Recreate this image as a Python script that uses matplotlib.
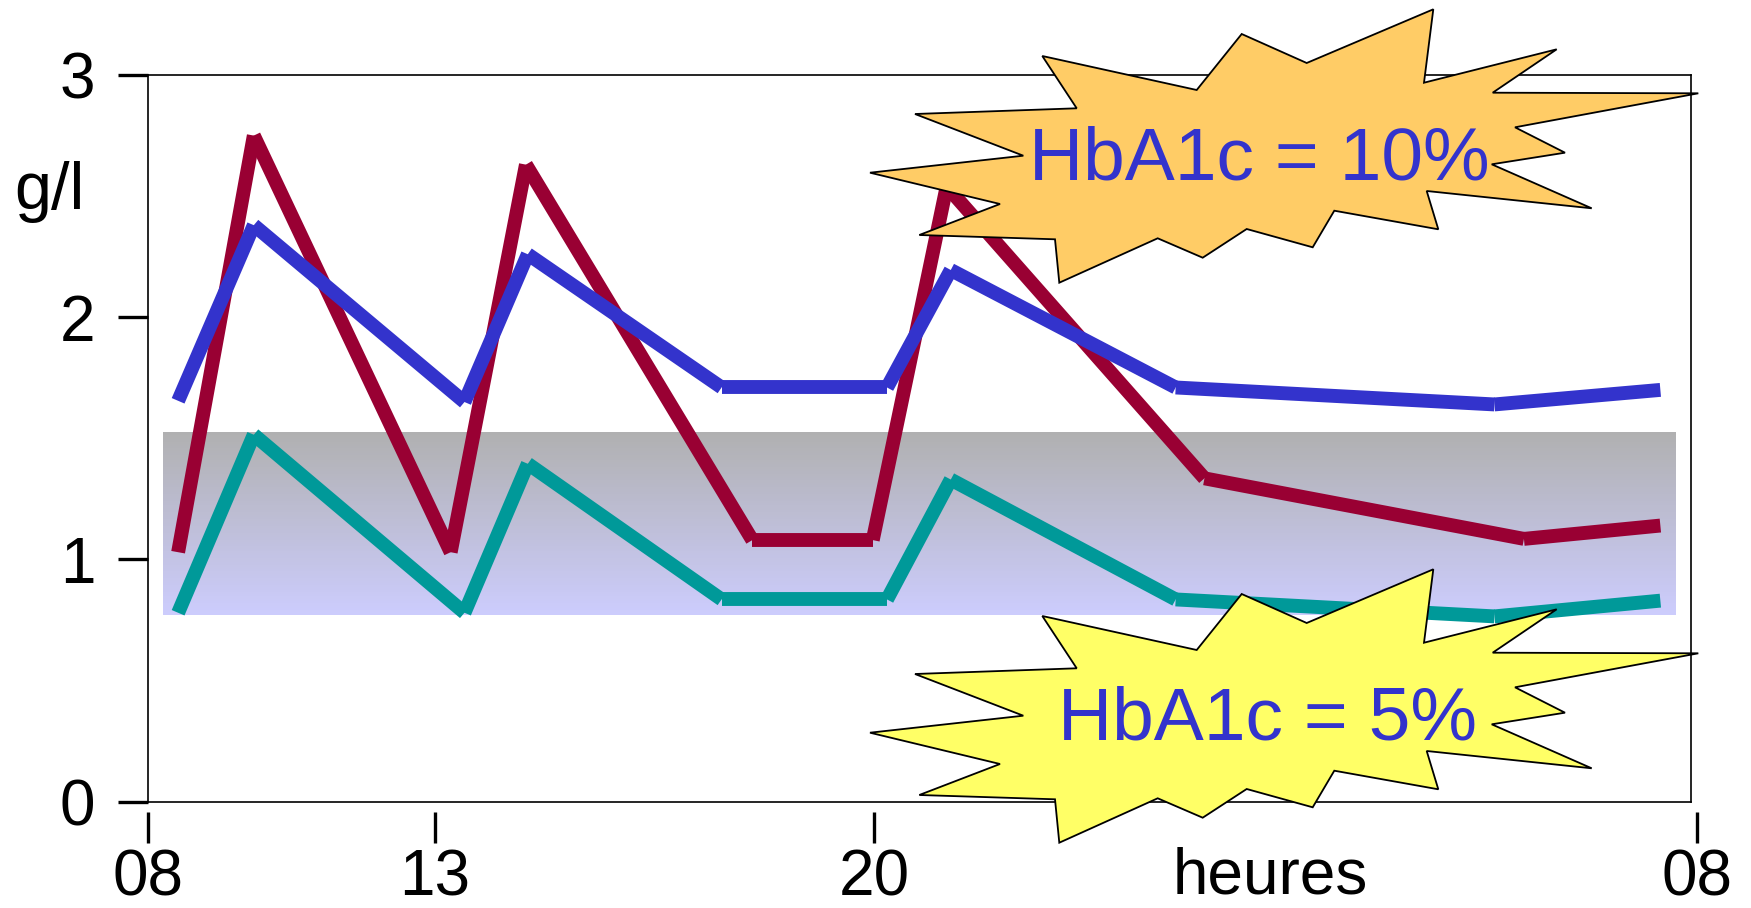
import numpy as np
import matplotlib
matplotlib.use("Agg")
import matplotlib.pyplot as plt
from matplotlib.patches import Polygon

plt.rcParams['font.family'] = ['Liberation Sans', 'DejaVu Sans']

# glycemie (g/l) sur 24 h
red_hours = [8.52, 9.84, 13.25, 14.45, 18.06, 19.98, 21.06, 24.82, 29.48, 31.47]
red_vals = [1.03, 2.75, 1.03, 2.63, 1.08, 1.08, 2.54, 1.335, 1.085, 1.14]

hours = [8.52, 9.84, 13.47, 14.48, 17.57, 20.19, 21.12, 24.40, 29.05, 31.47]
blue_vals = [1.655, 2.38, 1.65, 2.26, 1.71, 1.71, 2.195, 1.71, 1.64, 1.70]
teal_vals = [0.78, 1.515, 0.78, 1.395, 0.835, 0.835, 1.33, 0.835, 0.765, 0.83]

band_hours = [8.25, 31.70]
band_vals = [0.772, 1.524]

xticks = [8, 13, 20, 32]
xtick_labels = ['08', '13', '20', '08']
yticks = [0, 1, 2, 3]
ytick_labels = ['0', '1', '2', '3']
labels = ['HbA1c = 10%', 'HbA1c = 5%']

# the hour axis of the original is not evenly spaced
anchor_h = np.array([8, 13, 20, 32], dtype=float)
anchor_p = np.array([148.3, 435, 874, 1696.7])
s0 = (anchor_p[1] - anchor_p[0]) / (anchor_h[1] - anchor_h[0])
s1 = (anchor_p[-1] - anchor_p[-2]) / (anchor_h[-1] - anchor_h[-2])
ext_h = np.concatenate([[anchor_h[0] - 1000], anchor_h, [anchor_h[-1] + 1000]])
ext_p = np.concatenate([[anchor_p[0] - 1000 * s0], anchor_p, [anchor_p[-1] + 1000 * s1]])


def fwd(h):
    return np.interp(h, ext_h, ext_p)


def inv(p):
    return np.interp(p, ext_p, ext_h)


W, H = 1751, 908
fig = plt.figure(figsize=(W / 100, H / 100), dpi=100)
ax = fig.add_axes([148.3 / W, 1 - 801.7 / H, (1696.7 - 148.3) / W, (801.7 - 75) / H])
ax.set_xscale('function', functions=(fwd, inv))
ax.set_xlim(8, 32)
ax.set_ylim(0, 3)

# normal range band, gray at top fading to lavender
top = np.array([0.69, 0.69, 0.69])
bot = np.array([0.80, 0.80, 0.99])
edges = np.linspace(band_vals[0], band_vals[1], 81)
for i in range(80):
    t = (edges[i] - band_vals[0]) / (band_vals[1] - band_vals[0])
    c = bot + (top - bot) * t
    ax.fill_between(band_hours, edges[i], edges[i + 1] + 0.002, color=c,
                    lw=0, antialiased=False, zorder=1)


def draw_segments(x, y, color):
    # separate butt-ended segments, like the original drawing
    for i in range(len(x) - 1):
        ax.plot(x[i:i + 2], y[i:i + 2], color=color, lw=10,
                solid_capstyle='butt', zorder=3)


draw_segments(red_hours, red_vals, '#990033')
draw_segments(hours, blue_vals, '#3333CC')
draw_segments(hours, teal_vals, '#009999')

# frame (right edge sits a little left of the last tick)
right_frac = (1690.7 - 148.3) / (1696.7 - 148.3)
for sp in ['left', 'top', 'right']:
    ax.spines[sp].set_linewidth(1.2)
ax.spines['right'].set_position(('axes', right_frac))
ax.spines['top'].set_bounds(8, inv(1690.7))
ax.spines['bottom'].set_position(('outward', 7.2))
ax.spines['bottom'].set_visible(False)
ax.axhline(0, xmin=0, xmax=right_frac, color='black', lw=1.2, clip_on=False, zorder=2)

ax.set_xticks(xticks)
ax.set_xticklabels(xtick_labels)
ax.set_yticks(yticks)
ax.set_yticklabels(ytick_labels)
ax.xaxis.set_minor_locator(matplotlib.ticker.NullLocator())
ax.tick_params(axis='x', length=22, width=2.4, pad=4.5, labelsize=46)
ax.tick_params(axis='y', length=21.6, width=2.4, pad=16.5, labelsize=46)

fig.text(49 / W, 1 - 209 / H, 'g/l', fontsize=48, ha='center', va='baseline')
fig.text(1270 / W, 1 - 894 / H, 'heures', fontsize=46, ha='center', va='baseline')

# starburst callouts (reference pixel coords, y down)
star = np.array([(1042.3, 56), (1196.7, 90), (1241.7, 34), (1306.7, 63), (1433.3, 9.3),
                 (1424, 82.7), (1556.7, 49.3), (1492.7, 92.7), (1698.3, 93.3),
                 (1515, 127.3), (1565, 152.7), (1491.7, 164.3), (1591.7, 208.3),
                 (1426.7, 191), (1438.3, 229.3), (1334.3, 210.7), (1312.7, 247.3),
                 (1246.7, 229), (1202.7, 257.7), (1157.7, 238.3), (1059.3, 282.7),
                 (1055, 239.3), (919.3, 235), (1000, 204), (870, 172.7),
                 (1023.3, 155.7), (915, 114), (1076.7, 108.3)])

for dy, fc, label, tx, ty in [(0, '#FFCC66', labels[0], 1259, 180),
                              (560, '#FFFF66', labels[1], 1268, 740)]:
    pts = np.column_stack([star[:, 0] / W, 1 - (star[:, 1] + dy) / H])
    fig.add_artist(Polygon(pts, closed=True, facecolor=fc, edgecolor='black',
                           lw=1.3, transform=fig.transFigure, zorder=5))
    fig.text(tx / W, 1 - ty / H, label, fontsize=54, color='#3333CC',
             ha='center', va='baseline', zorder=6)

fig.savefig('out.png', dpi=100)
